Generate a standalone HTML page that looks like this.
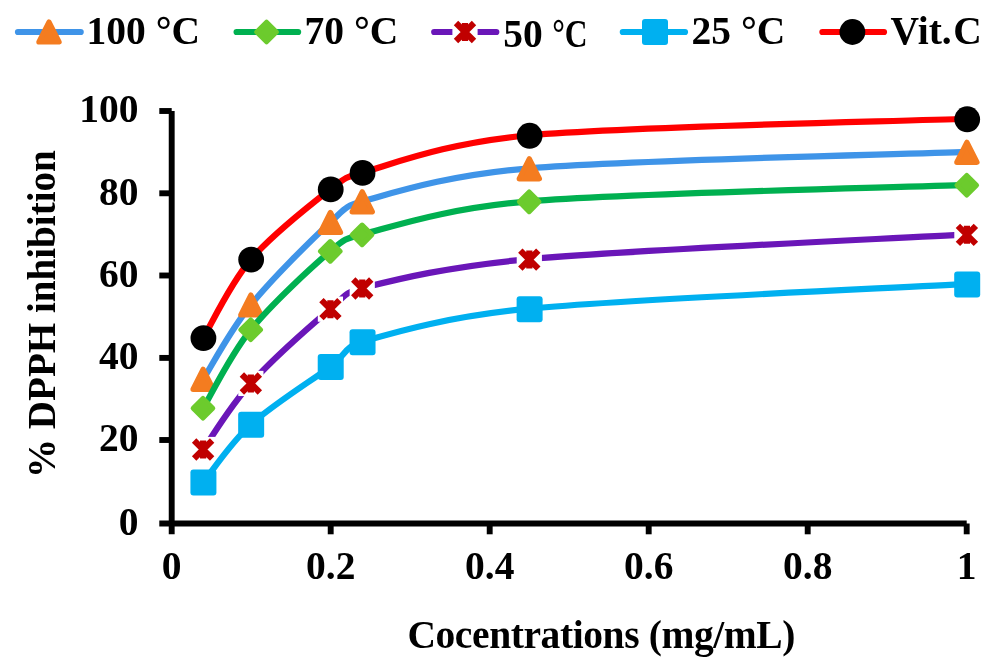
<!DOCTYPE html>
<html><head><meta charset="utf-8"><title>DPPH inhibition chart</title>
<style>html,body{margin:0;padding:0;background:#fff}body{width:994px;height:667px;overflow:hidden}svg{display:block;will-change:transform}</style>
</head><body>
<svg width="994" height="667" viewBox="0 0 994 667">
<rect width="994" height="667" fill="#fff"/>
<g stroke="#000" stroke-width="5.90" fill="none">
<path d="M171.70 111.00 L171.70 534.30"/>
<path d="M159.30 523.50 L966.70 523.50"/>
<path d="M159.30 440.00 L171.70 440.00"/>
<path d="M159.30 357.90 L171.70 357.90"/>
<path d="M159.30 275.50 L171.70 275.50"/>
<path d="M159.30 193.30 L171.70 193.30"/>
<path d="M159.30 111.00 L171.70 111.00"/>
<path d="M330.70 523.50 L330.70 534.30"/>
<path d="M489.70 523.50 L489.70 534.30"/>
<path d="M648.70 523.50 L648.70 534.30"/>
<path d="M807.70 523.50 L807.70 534.30"/>
<path d="M966.70 523.50 L966.70 534.30"/>
</g>
<path d="M203.42 379.32 C211.38 366.94 229.94 331.16 251.16 305.02 C272.38 278.87 312.16 239.66 330.72 222.46 C344.63 209.57 344.23 206.76 362.54 201.82 C390.46 194.28 444.75 175.74 529.62 168.79 C630.40 160.54 894.27 155.03 967.20 152.28" stroke="#3F94E8" stroke-width="6.20" fill="none" stroke-linecap="round" stroke-linejoin="round" transform="translate(0 -0.5)"/>
<path d="M203.12 369.42 L213.12 389.22 L193.12 389.22Z" fill="#F47C20" stroke="#F47C20" stroke-width="5.4" stroke-linejoin="round"/>
<path d="M250.86 295.12 L260.86 314.92 L240.86 314.92Z" fill="#F47C20" stroke="#F47C20" stroke-width="5.4" stroke-linejoin="round"/>
<path d="M330.42 212.56 L340.42 232.36 L320.42 232.36Z" fill="#F47C20" stroke="#F47C20" stroke-width="5.4" stroke-linejoin="round"/>
<path d="M362.24 191.92 L372.24 211.72 L352.24 211.72Z" fill="#F47C20" stroke="#F47C20" stroke-width="5.4" stroke-linejoin="round"/>
<path d="M529.32 158.89 L539.32 178.69 L519.32 178.69Z" fill="#F47C20" stroke="#F47C20" stroke-width="5.4" stroke-linejoin="round"/>
<path d="M966.90 142.38 L976.90 162.18 L956.90 162.18Z" fill="#F47C20" stroke="#F47C20" stroke-width="5.4" stroke-linejoin="round"/>
<path d="M203.42 408.22 C211.38 395.14 229.94 355.93 251.16 329.78 C272.38 303.64 312.16 267.18 330.72 251.35 C344.36 239.72 345.15 239.17 362.54 234.84 C390.46 227.89 444.75 208.77 529.62 201.82 C630.40 193.56 894.27 188.06 967.20 185.30" stroke="#00B050" stroke-width="6.20" fill="none" stroke-linecap="round" stroke-linejoin="round" transform="translate(0 -0.5)"/>
<path d="M202.97 398.42 L212.77 408.22 L202.97 418.02 L193.17 408.22Z" fill="#6CCB2D" stroke="#6CCB2D" stroke-width="5" stroke-linejoin="round"/>
<path d="M250.71 319.98 L260.51 329.78 L250.71 339.58 L240.91 329.78Z" fill="#6CCB2D" stroke="#6CCB2D" stroke-width="5" stroke-linejoin="round"/>
<path d="M330.27 241.55 L340.07 251.35 L330.27 261.15 L320.47 251.35Z" fill="#6CCB2D" stroke="#6CCB2D" stroke-width="5" stroke-linejoin="round"/>
<path d="M362.09 225.04 L371.89 234.84 L362.09 244.64 L352.29 234.84Z" fill="#6CCB2D" stroke="#6CCB2D" stroke-width="5" stroke-linejoin="round"/>
<path d="M529.17 192.02 L538.97 201.82 L529.17 211.62 L519.37 201.82Z" fill="#6CCB2D" stroke="#6CCB2D" stroke-width="5" stroke-linejoin="round"/>
<path d="M966.75 175.50 L976.55 185.30 L966.75 195.10 L956.95 185.30Z" fill="#6CCB2D" stroke="#6CCB2D" stroke-width="5" stroke-linejoin="round"/>
<path d="M203.42 449.50 C211.38 438.49 229.94 406.84 251.16 383.45 C272.38 360.06 312.16 324.97 330.72 309.14 C345.15 296.84 344.14 293.09 362.54 288.50 C390.32 281.59 445.17 267.10 529.62 259.61 C630.40 250.66 894.27 238.97 967.20 234.84" stroke="#6A16B8" stroke-width="6.20" fill="none" stroke-linecap="round" stroke-linejoin="round" transform="translate(0 -0.5)"/>
<rect x="190.52" y="436.90" width="25.2" height="25.2" fill="#fff"/><path d="M194.12 440.50 L212.12 458.50 M194.12 458.50 L212.12 440.50 M203.12 440.50 L203.12 458.50" stroke="#C00000" stroke-width="6.2" fill="none" stroke-linecap="butt"/>
<rect x="238.26" y="370.85" width="25.2" height="25.2" fill="#fff"/><path d="M241.86 374.45 L259.86 392.45 M241.86 392.45 L259.86 374.45 M250.86 374.45 L250.86 392.45" stroke="#C00000" stroke-width="6.2" fill="none" stroke-linecap="butt"/>
<rect x="317.82" y="296.54" width="25.2" height="25.2" fill="#fff"/><path d="M321.42 300.14 L339.42 318.14 M321.42 318.14 L339.42 300.14 M330.42 300.14 L330.42 318.14" stroke="#C00000" stroke-width="6.2" fill="none" stroke-linecap="butt"/>
<rect x="349.64" y="275.90" width="25.2" height="25.2" fill="#fff"/><path d="M353.24 279.50 L371.24 297.50 M353.24 297.50 L371.24 279.50 M362.24 279.50 L362.24 297.50" stroke="#C00000" stroke-width="6.2" fill="none" stroke-linecap="butt"/>
<rect x="516.72" y="247.01" width="25.2" height="25.2" fill="#fff"/><path d="M520.32 250.61 L538.32 268.61 M520.32 268.61 L538.32 250.61 M529.32 250.61 L529.32 268.61" stroke="#C00000" stroke-width="6.2" fill="none" stroke-linecap="butt"/>
<rect x="954.30" y="222.24" width="25.2" height="25.2" fill="#fff"/><path d="M957.90 225.84 L975.90 243.84 M957.90 243.84 L975.90 225.84 M966.90 225.84 L966.90 243.84" stroke="#C00000" stroke-width="6.2" fill="none" stroke-linecap="butt"/>
<path d="M203.42 482.52 C211.38 472.89 229.94 443.99 251.16 424.73 C272.38 405.46 312.16 380.70 330.72 366.94 C346.92 354.93 343.18 347.79 362.54 342.17 C390.43 334.07 444.85 317.25 529.62 309.14 C630.40 299.51 894.27 288.50 967.20 284.38" stroke="#00B0F0" stroke-width="6.20" fill="none" stroke-linecap="round" stroke-linejoin="round" transform="translate(0 -0.5)"/>
<rect x="190.42" y="469.52" width="26.00" height="26.00" rx="3" fill="#00B0F0"/>
<rect x="238.16" y="411.73" width="26.00" height="26.00" rx="3" fill="#00B0F0"/>
<rect x="317.72" y="353.94" width="26.00" height="26.00" rx="3" fill="#00B0F0"/>
<rect x="349.54" y="329.17" width="26.00" height="26.00" rx="3" fill="#00B0F0"/>
<rect x="516.62" y="296.14" width="26.00" height="26.00" rx="3" fill="#00B0F0"/>
<rect x="954.20" y="271.38" width="26.00" height="26.00" rx="3" fill="#00B0F0"/>
<path d="M203.42 338.04 C211.38 324.97 229.94 284.38 251.16 259.61 C272.38 234.84 312.16 203.88 330.72 189.43 C344.87 178.42 345.24 177.59 362.54 172.92 C390.58 165.35 444.38 143.33 529.62 135.77 C630.40 126.82 894.27 122.01 967.20 119.26" stroke="#FF0000" stroke-width="6.20" fill="none" stroke-linecap="round" stroke-linejoin="round" transform="translate(0 -0.5)"/>
<circle cx="203.42" cy="338.04" r="12.9" fill="#000000"/>
<circle cx="251.16" cy="259.61" r="12.9" fill="#000000"/>
<circle cx="330.72" cy="189.43" r="12.9" fill="#000000"/>
<circle cx="362.54" cy="172.92" r="12.9" fill="#000000"/>
<circle cx="529.62" cy="135.77" r="12.9" fill="#000000"/>
<circle cx="967.20" cy="119.26" r="12.9" fill="#000000"/>
<g font-family="Liberation Serif, serif" font-weight="bold" font-size="39.50" fill="#000">
<text x="138.5" y="534.70" text-anchor="end">0</text>
<text x="138.5" y="451.20" text-anchor="end">20</text>
<text x="138.5" y="369.10" text-anchor="end">40</text>
<text x="138.5" y="286.70" text-anchor="end">60</text>
<text x="138.5" y="204.50" text-anchor="end">80</text>
<text x="138.5" y="122.20" text-anchor="end">100</text>
<text x="171.70" y="579.0" text-anchor="middle">0</text>
<text x="330.70" y="579.0" text-anchor="middle">0.2</text>
<text x="489.70" y="579.0" text-anchor="middle">0.4</text>
<text x="648.70" y="579.0" text-anchor="middle">0.6</text>
<text x="807.70" y="579.0" text-anchor="middle">0.8</text>
<text x="966.70" y="579.0" text-anchor="middle">1</text>
<text x="407.4" y="647.8" letter-spacing="-0.4">Cocentrations (mg/mL)</text>
<text transform="translate(55.3 314.1) rotate(-90)" text-anchor="middle" font-size="39.1">% DPPH inhibition</text>
</g>
<path d="M18.00 32 L80.70 32" stroke="#3F94E8" stroke-width="6.20" stroke-linecap="round"/>
<path d="M49.00 22.10 L59.00 41.90 L39.00 41.90Z" fill="#F47C20" stroke="#F47C20" stroke-width="5.4" stroke-linejoin="round"/>
<text x="86.50" y="44.30" font-family="Liberation Serif, serif" font-weight="bold" font-size="39.50" fill="#000">100 °C</text>
<path d="M236.60 32 L298.10 32" stroke="#00B050" stroke-width="6.20" stroke-linecap="round"/>
<path d="M266.55 22.20 L276.35 32.00 L266.55 41.80 L256.75 32.00Z" fill="#6CCB2D" stroke="#6CCB2D" stroke-width="5" stroke-linejoin="round"/>
<text x="304.50" y="44.30" font-family="Liberation Serif, serif" font-weight="bold" font-size="39.50" fill="#000">70 °C</text>
<path d="M434.20 32 L496.30 32" stroke="#6A16B8" stroke-width="6.20" stroke-linecap="round"/>
<rect x="452.40" y="19.40" width="25.2" height="25.2" fill="#fff"/><path d="M456.00 23.00 L474.00 41.00 M456.00 41.00 L474.00 23.00 M465.00 23.00 L465.00 41.00" stroke="#C00000" stroke-width="6.2" fill="none" stroke-linecap="butt"/>
<text x="503.20" y="47.30" font-family="Liberation Serif, serif" font-weight="bold" font-size="39.50" fill="#000">50 </text>
<text transform="translate(552.2 47.30) scale(0.8 1)" font-family="Liberation Serif, serif" font-weight="bold" font-size="39.50" fill="#000">°C</text>
<path d="M622.80 32 L685.00 32" stroke="#00B0F0" stroke-width="6.20" stroke-linecap="round"/>
<rect x="642.00" y="19.00" width="26.00" height="26.00" rx="3" fill="#00B0F0"/>
<text x="691.50" y="44.30" font-family="Liberation Serif, serif" font-weight="bold" font-size="39.50" fill="#000">25 °C</text>
<path d="M822.40 32 L884.00 32" stroke="#FF0000" stroke-width="6.20" stroke-linecap="round"/>
<circle cx="852.40" cy="32.00" r="12.9" fill="#000000"/>
<text x="890.60" y="44.30" font-family="Liberation Serif, serif" font-weight="bold" font-size="39.50" fill="#000">Vit.<tspan dx="1.6">C</tspan></text>
</svg>
</body></html>
